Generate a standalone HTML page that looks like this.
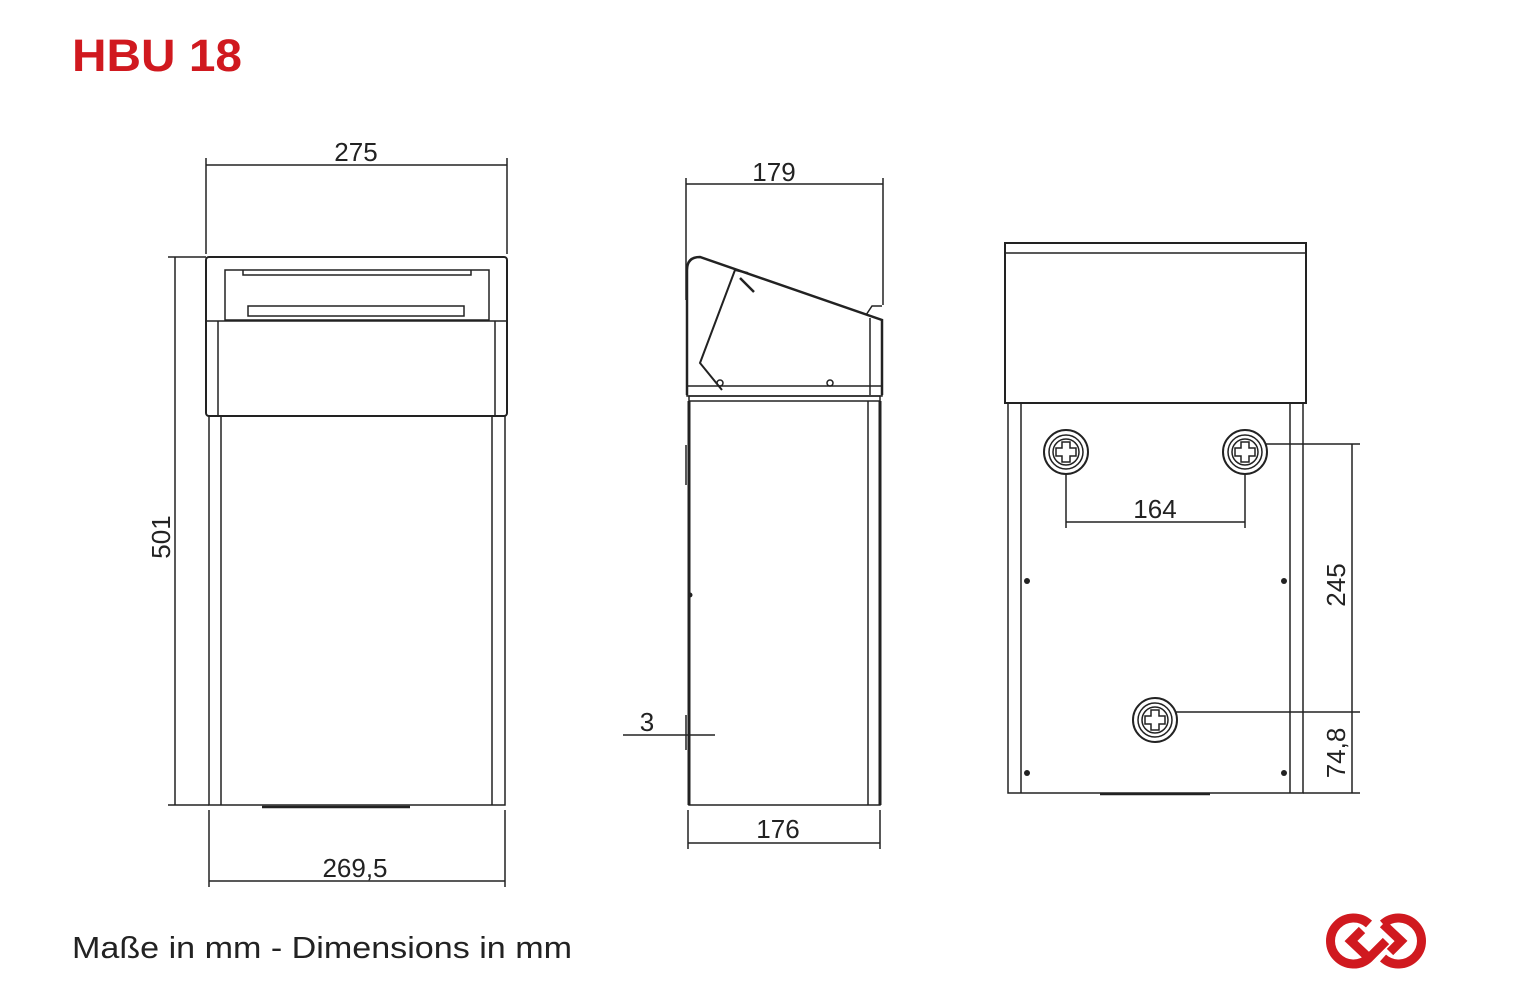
<!DOCTYPE html>
<html><head><meta charset="utf-8"><style>
html,body{margin:0;padding:0;background:#fff;}
svg{display:block}
text{font-family:"Liberation Sans",sans-serif;}
</style></head><body>
<svg width="1523" height="1001" viewBox="0 0 1523 1001" xmlns="http://www.w3.org/2000/svg">
<text x="72" y="71" font-size="45" font-weight="bold" fill="#d0191f" textLength="170" lengthAdjust="spacingAndGlyphs">HBU 18</text>
<text x="72" y="958" font-size="31" fill="#222" textLength="500" lengthAdjust="spacingAndGlyphs">Maße in mm - Dimensions in mm</text>

<g stroke="#222" fill="none" stroke-width="1.5">
<!-- FRONT -->
<rect x="206" y="257" width="301" height="159" rx="3" stroke-width="2"/>
<path d="M206 321 H507" />
<rect x="225" y="270" width="264" height="50"/>
<path d="M243 270 v5 h8 M471 270 v5 h-8 M243 275 H471"/>
<rect x="248" y="306" width="216" height="10"/>
<path d="M218 321 V416 M495 321 V416"/>
<path d="M209 416 V805 H505 V416 M221 416 V805 M492 416 V805"/>
<path d="M262 807 H410" stroke-width="2.5"/>
<path d="M206 158 V254 M507 158 V254 M206 165 H507"/>
<path d="M168 257 H206 M168 805 H209 M175 257 V805"/>
<path d="M209 810 V887 M505 810 V887 M209 881 H505"/>

<!-- SIDE -->
<path d="M686 178 V300 M883 178 V305 M686 184 H883"/>
<path d="M687 395 V270 Q687 257 700 257 L882 320 V395" stroke-width="2.5"/>
<path d="M735 270 L700 363 L722 390 M735 270 L748 273" stroke-width="2"/>
<path d="M740 278 L754 292" stroke-width="2.5"/>
<path d="M866 315 L872 306 H882" stroke-width="1.5"/>
<path d="M870 318 V395"/>
<rect x="687" y="386" width="195" height="10"/>
<rect x="689" y="396" width="191" height="5"/>
<circle cx="830" cy="383" r="3"/><circle cx="720" cy="383" r="3"/>
<path d="M689 401 V805 H880 V401 M868 401 V805" />
<path d="M689 401 V805" stroke-width="3"/>
<path d="M880 401 V805" stroke-width="3"/>
<path d="M686 445 V485 M686 715 V750"/>
<path d="M623 735 H715"/>
<path d="M688 810 V849 M880 810 V849 M688 843 H880"/>

<!-- BACK -->
<rect x="1005" y="243" width="301" height="160" stroke-width="2"/>
<path d="M1005 253 H1306"/>
<path d="M1008 403 V793 H1303 V403 M1021 403 V793 M1290 403 V793"/>
<path d="M1100 794 H1210" stroke-width="2.5"/>
<path d="M1066 452 V528 M1245 452 V528 M1066 522 H1245"/>
<path d="M1245 444 H1360 M1155 712 H1360 M1303 793 H1360 M1352 444 V793"/>
</g>
<g fill="#222">
<circle cx="1027" cy="581" r="3"/><circle cx="1284" cy="581" r="3"/>
<circle cx="1027" cy="773" r="3"/><circle cx="1284" cy="773" r="3"/>
<circle cx="690" cy="595" r="2.5"/>
</g>
<g stroke="#222" fill="#fff" stroke-width="1.5">
<g transform="translate(1066,452)"><circle r="22" stroke-width="2"/><circle r="17"/><circle r="13"/><path d="M-4 -10 H4 V-4 H10 V4 H4 V10 H-4 V4 H-10 V-4 H-4 Z"/></g>
<g transform="translate(1245,452)"><circle r="22" stroke-width="2"/><circle r="17"/><circle r="13"/><path d="M-4 -10 H4 V-4 H10 V4 H4 V10 H-4 V4 H-10 V-4 H-4 Z"/></g>
<g transform="translate(1155,720)"><circle r="22" stroke-width="2"/><circle r="17"/><circle r="13"/><path d="M-4 -10 H4 V-4 H10 V4 H4 V10 H-4 V4 H-10 V-4 H-4 Z"/></g>
</g>
<g font-size="26" fill="#222" text-anchor="middle">
<text x="356" y="161">275</text>
<text x="774" y="181">179</text>
<text x="355" y="877">269,5</text>
<text x="778" y="838">176</text>
<text x="647" y="731">3</text>
<text x="1155" y="518">164</text>
<text transform="translate(170,537) rotate(-90)">501</text>
<text transform="translate(1345,585) rotate(-90)">245</text>
<text transform="translate(1345,753) rotate(-90)">74,8</text>
</g>
<!-- logo -->
<g fill="none" stroke="#d0191f" stroke-width="9">
<path d="M1369 924 A23 23 0 1 0 1369 958 L1386 941"/>
<path d="M1383 924 A23 23 0 1 1 1383 958"/>
<path d="M1383 924 L1401 941 L1390 952"/>
<path d="M1369 958 L1351 941 L1362 930"/>
</g>
</svg>
</body></html>
